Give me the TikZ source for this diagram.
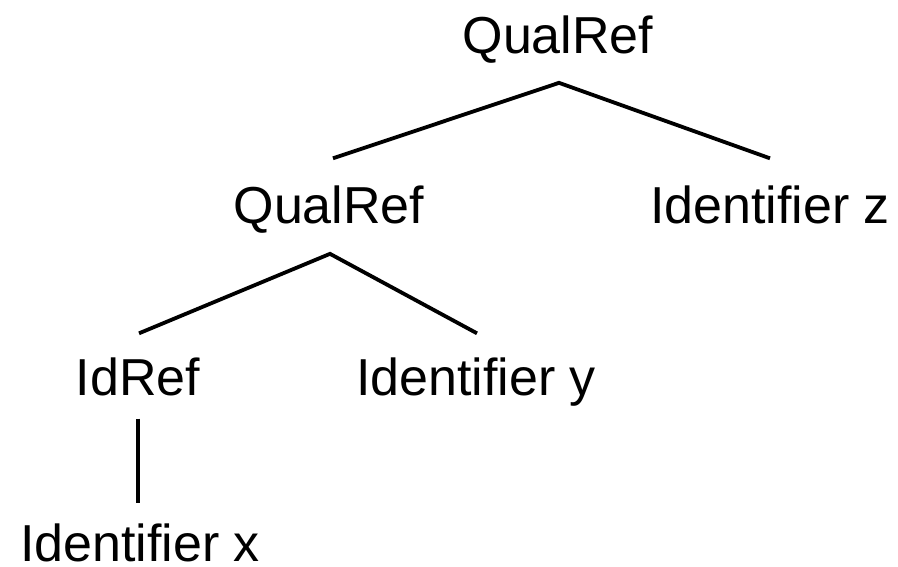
\documentclass[tikz,border=0pt]{standalone}
\usepackage{fontspec}
\setmainfont{Liberation Sans}
\begin{document}
\begin{tikzpicture}[x=1pt,y=-1pt,
  lbl/.style={anchor=base,inner sep=0pt,outer sep=0pt,font=\fontsize{52}{62}\selectfont},
  edge/.style={line width=3.8pt,line join=miter}]
\useasboundingbox (0,0) rectangle (898,566);
% tree labels, placed on their baselines
\node[lbl] (q1)  at (558,53)  {QualRef};
\node[lbl] (q2)  at (329,223) {QualRef};
\node[lbl] (iz)  at (770,223) {Identifier z};
\node[lbl] (idr) at (138,395) {IdRef};
\node[lbl] (iy)  at (476,395) {Identifier y};
\node[lbl] (ix)  at (140,561) {Identifier x};
% branches
\draw[edge] ([xshift=4pt,yshift=27pt]q2.north) -- ([xshift=1pt,yshift=-20pt]q1.south) -- ([yshift=27pt]iz.north);
\draw[edge] ([xshift=1pt,yshift=24pt]idr.north) -- ([xshift=1pt,yshift=-21pt]q2.south) -- ([xshift=1pt,yshift=24pt]iy.north);
\draw[edge] ([yshift=-23pt]idr.south) -- ([xshift=-2pt,yshift=20pt]ix.north);
\end{tikzpicture}
\end{document}
